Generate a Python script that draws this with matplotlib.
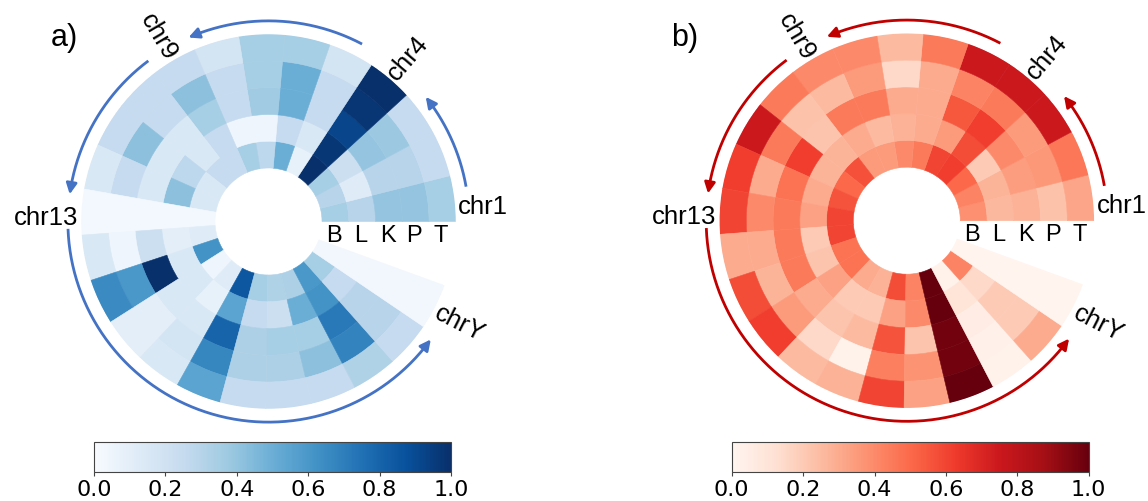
import numpy as np
import matplotlib
matplotlib.use("Agg")
import matplotlib.pyplot as plt
from matplotlib.colors import Normalize
from matplotlib.colorbar import ColorbarBase
from matplotlib.transforms import ScaledTranslation

# ---------------- data ----------------
chromosomes = ["chr%d" % i for i in range(1, 23)] + ["chrX", "chrY"]
rings = ["B", "L", "K", "P", "T"]

# panel a (Blues), one list per ring, chr1..chr22, chrX, chrY
a_B = [0.35, 0.30, 0.35, 1.00, 0.08, 0.50, 0.28, 0.35, 0.25, 0.25, 0.15, 0.15,
       0.02, 0.12, 0.62, 0.05, 0.12, 0.85, 0.35, 0.32, 0.33, 0.60, 0.35, 0.03]
a_L = [0.30, 0.12, 0.22, 0.97, 0.15, 0.25, 0.05, 0.05, 0.25, 0.15, 0.28, 0.42,
       0.02, 0.10, 0.15, 0.15, 0.08, 0.55, 0.25, 0.22, 0.50, 0.62, 0.25, 0.03]
a_K = [0.40, 0.30, 0.40, 0.92, 0.25, 0.50, 0.37, 0.25, 0.35, 0.15, 0.15, 0.15,
       0.02, 0.22, 1.00, 0.15, 0.15, 0.80, 0.33, 0.35, 0.35, 0.72, 0.30, 0.03]
a_P = [0.40, 0.30, 0.38, 0.98, 0.25, 0.50, 0.35, 0.25, 0.42, 0.25, 0.42, 0.25,
       0.02, 0.05, 0.60, 0.10, 0.18, 0.67, 0.33, 0.33, 0.42, 0.68, 0.30, 0.03]
a_T = [0.35, 0.25, 0.25, 1.00, 0.18, 0.35, 0.35, 0.18, 0.25, 0.25, 0.25, 0.15,
       0.02, 0.15, 0.65, 0.10, 0.15, 0.55, 0.25, 0.25, 0.25, 0.32, 0.25, 0.03]

# panel b (Reds)
b_B = [0.38, 0.42, 0.50, 0.62, 0.60, 0.45, 0.40, 0.35, 0.35, 0.57, 0.50, 0.56,
       0.60, 0.60, 0.47, 0.47, 0.30, 0.28, 0.58, 0.42, 1.00, 0.02, 0.42, 0.01]
b_L = [0.26, 0.27, 0.20, 0.58, 0.35, 0.30, 0.28, 0.25, 0.30, 0.27, 0.27, 0.30,
       0.33, 0.20, 0.22, 0.33, 0.20, 0.20, 0.33, 0.40, 1.00, 0.10, 0.15, 0.01]
b_K = [0.28, 0.34, 0.40, 0.62, 0.55, 0.30, 0.30, 0.45, 0.45, 0.22, 0.62, 0.47,
       0.45, 0.45, 0.45, 0.30, 0.22, 0.25, 0.56, 0.22, 0.98, 0.05, 0.20, 0.01]
b_P = [0.23, 0.36, 0.35, 0.45, 0.42, 0.30, 0.15, 0.35, 0.25, 0.23, 0.45, 0.30,
       0.40, 0.30, 0.27, 0.35, 0.15, 0.02, 0.43, 0.37, 0.98, 0.03, 0.20, 0.01]
b_T = [0.32, 0.46, 0.75, 0.75, 0.75, 0.45, 0.25, 0.40, 0.40, 0.45, 0.75, 0.62,
       0.60, 0.30, 0.58, 0.62, 0.25, 0.28, 0.60, 0.33, 1.00, 0.02, 0.30, 0.01]

labelled = ["chr1", "chr4", "chr9", "chr13", "chrY"]
cbar_ticks = [0.0, 0.2, 0.4, 0.6, 0.8, 1.0]

# ---------------- layout ----------------
W, H = 1148, 502
SPAN = 340.0                 # degrees covered by the 24 sectors
HOLE = 2.0                   # inner radius (data units)
PX = 26.75                   # pixels per radial unit
RMAX = HOLE + len(rings)

fig = plt.figure(figsize=(W / 100, H / 100), dpi=100)
lab_font = ["Liberation Sans", "DejaVu Sans"]


def polar_axes(cx, cy):
    rpx = RMAX * PX
    return fig.add_axes([(cx - rpx) / W, 1 - (cy + rpx) / H, 2 * rpx / W, 2 * rpx / H],
                        projection="polar")


def draw_panel(ax, ring_values, cmap, arrow_color):
    n = len(chromosomes)
    wdeg = SPAN / n
    theta = np.deg2rad((np.arange(n) + 0.5) * wdeg)
    norm = Normalize(0, 1)
    cm = plt.get_cmap(cmap)
    for k, vals in enumerate(ring_values):
        cols = cm(norm(np.asarray(vals)))
        ax.bar(theta, 1.0, width=np.deg2rad(wdeg), bottom=HOLE + k, color=cols,
               edgecolor=cols, linewidth=0.4, align="center")
    ax.set_ylim(0, RMAX)
    ax.set_axis_off()

    # ring labels below the 0 deg line
    off = ScaledTranslation(0, -2 / 72, fig.dpi_scale_trans)
    for k, r in enumerate(rings):
        ax.text(0, HOLE + k + 0.45, r, transform=ax.transData + off, ha="center",
                va="top", fontsize=17, family=lab_font)

    # chromosome labels
    centers = {c: (i + 0.5) * wdeg for i, c in enumerate(chromosomes)}
    RL = RMAX + 0.12
    specs = {
        "chr1": (4.6, 0, "left"),
        "chr4": (centers["chr4"], centers["chr4"], "left"),
        "chr9": (centers["chr9"] + 0.4, centers["chr9"] - 180, "right"),
        "chr13": (178.5, 0, "right"),
        "chrY": (centers["chrY"] - 1.0, centers["chrY"] - 360, "left"),
    }
    for c in labelled:
        ang, rot, ha = specs[c]
        ax.text(np.deg2rad(ang), RL, c, rotation=rot, rotation_mode="anchor",
                ha=ha, va="center", fontsize=18.5, family=lab_font)

    # arrows along the outside
    RA = 7.5
    spans = [(10.0, 38.4), (62.2, 113.5), (126.8, 172.2), (182.1, 324.0)]
    for a0, a1 in spans:
        t = np.deg2rad(np.linspace(a0, a1 - 2.0, 200))
        ax.plot(t, np.full_like(t, RA), color=arrow_color, lw=2.0,
                clip_on=False, solid_capstyle="butt")
        ax.annotate("", xy=(np.deg2rad(a1), RA), xytext=(np.deg2rad(a1 - 3.0), RA),
                    arrowprops=dict(arrowstyle="-|>", color=arrow_color, lw=2.0,
                                    mutation_scale=16, shrinkA=0, shrinkB=0),
                    annotation_clip=False)


def draw_cbar(x0, cmap):
    cax = fig.add_axes([x0 / W, 1 - 473.3 / H, 357 / W, 30 / H])
    cb = ColorbarBase(cax, cmap=plt.get_cmap(cmap), norm=Normalize(0, 1),
                      orientation="horizontal", ticks=cbar_ticks)
    cb.ax.set_xticklabels(["%.1f" % t for t in cbar_ticks])
    cb.ax.tick_params(labelsize=16, length=3, width=0.8, pad=1.5, color="#444444")
    cb.outline.set_linewidth(0.8)
    cb.outline.set_edgecolor("#444444")


ax_a = polar_axes(268.5, 222.5)
draw_panel(ax_a, [a_B, a_L, a_K, a_P, a_T], "Blues", "#4472C4")
ax_b = polar_axes(906.8, 221.7)
draw_panel(ax_b, [b_B, b_L, b_K, b_P, b_T], "Reds", "#C00000")

draw_cbar(94, "Blues")
draw_cbar(731.7, "Reds")

fig.text(51 / W, 1 - 23 / H, "a)", fontsize=22, family=lab_font, va="top", ha="left")
fig.text(671 / W, 1 - 23 / H, "b)", fontsize=22, family=lab_font, va="top", ha="left")

fig.savefig("out.png", dpi=100)
